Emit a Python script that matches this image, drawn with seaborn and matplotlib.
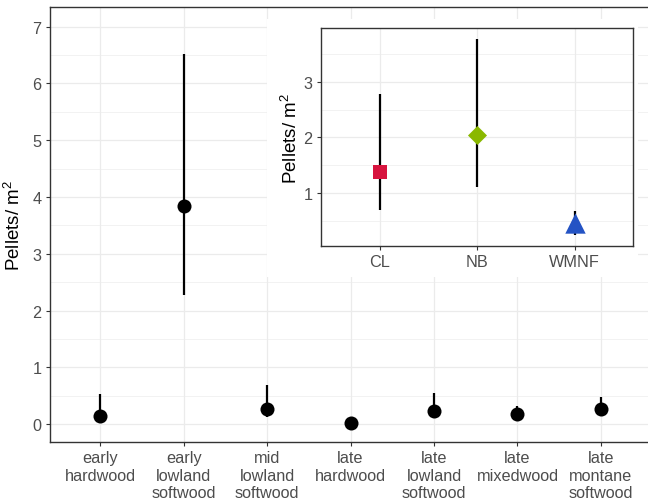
import matplotlib.pyplot as plt
import seaborn as sns
import pandas as pd
from matplotlib.patches import Rectangle
from matplotlib.ticker import MultipleLocator

# stand types (main panel)
stands = ['early\nhardwood', 'early\nlowland\nsoftwood', 'mid\nlowland\nsoftwood',
          'late\nhardwood', 'late\nlowland\nsoftwood', 'late\nmixedwood',
          'late\nmontane\nsoftwood']
stand_mean = [0.15, 3.85, 0.26, 0.02, 0.23, 0.18, 0.26]
stand_lo = [0.04, 2.28, 0.13, 0.00, 0.11, 0.08, 0.15]
stand_hi = [0.53, 6.52, 0.69, 0.05, 0.55, 0.32, 0.48]

# study sites (inset)
sites = ['CL', 'NB', 'WMNF']
site_mean = [1.38, 2.05, 0.47]
site_lo = [0.70, 1.12, 0.25]
site_hi = [2.78, 3.77, 0.69]
site_colors = ['#D7143E', '#8AB800', '#2453C4']
site_markers = ['s', 'D', '^']
site_sizes = [116, 94, 215]

sns.set_theme(style='white')
plt.rcParams['font.family'] = ['Liberation Sans', 'DejaVu Sans']
plt.rcParams['mathtext.fontset'] = 'custom'
plt.rcParams['mathtext.rm'] = 'Liberation Sans'
plt.rcParams['mathtext.it'] = 'Liberation Sans'
plt.rcParams['mathtext.default'] = 'regular'

tick_col = '#4D4D4D'
grid_col = '#EBEBEB'
border_col = '#333333'


def style_axes(ax):
    ax.set_facecolor('white')
    ax.yaxis.set_major_locator(MultipleLocator(1))
    ax.yaxis.set_minor_locator(MultipleLocator(0.5))
    ax.grid(which='major', color=grid_col, lw=0.9, zorder=0)
    ax.grid(which='minor', axis='y', color=grid_col, lw=0.45, zorder=0)
    ax.set_axisbelow(True)
    for sp in ax.spines.values():
        sp.set_visible(True)
        sp.set_color(border_col)
        sp.set_linewidth(1.0)
    ax.tick_params(axis='both', which='major', length=3, width=0.8,
                   color=border_col, labelcolor=tick_col, labelsize=11.7, pad=3,
                   bottom=True, left=True)
    ax.tick_params(axis='y', which='minor', length=0)


fig = plt.figure(figsize=(6.48, 5.02), dpi=100)

# main panel
df = pd.DataFrame({'stand': stands, 'mean': stand_mean,
                   'lo': stand_lo, 'hi': stand_hi})
ax = fig.add_axes([0.0772, 0.1175, 0.9275, 0.8665])
ax.vlines(range(len(stands)), df['lo'], df['hi'], color='black', lw=1.6, zorder=3)
sns.scatterplot(data=df, x='stand', y='mean', color='black', s=102,
                linewidth=0, ax=ax, zorder=4)
style_axes(ax)
ax.set_xlim(-0.6, len(stands) - 0.4)
ax.set_ylim(-0.317, 7.347)
ax.set_xlabel('')
ax.set_ylabel('Pellets/ m$^2$', fontsize=13.5, color='black')
ax.yaxis.set_label_coords(-0.043, 0.5)

# white backdrop behind the inset plot
fig.add_artist(Rectangle((0.412, 0.4462), 0.5725, 0.514, transform=fig.transFigure,
                         facecolor='white', edgecolor='none', zorder=1))

# inset panel
ins = fig.add_axes([0.4954, 0.5086, 0.4815, 0.4331], zorder=2)
sdf = pd.DataFrame({'site': sites, 'mean': site_mean, 'lo': site_lo, 'hi': site_hi})
ins.vlines(range(len(sites)), sdf['lo'], sdf['hi'], color='black', lw=1.6, zorder=3)
for i, site in enumerate(sites):
    sns.scatterplot(x=[site], y=[site_mean[i]], color=site_colors[i],
                    marker=site_markers[i], s=site_sizes[i], linewidth=0,
                    ax=ins, zorder=4)
style_axes(ins)
ins.set_xlim(-0.6, len(sites) - 0.4)
ins.set_ylim(0.061, 3.957)
ins.set_xlabel('')
ins.set_ylabel('Pellets/ m$^2$', fontsize=13.5, color='black')
ins.yaxis.set_label_coords(-0.063, 0.5)

fig.savefig('out.png', dpi=100)
